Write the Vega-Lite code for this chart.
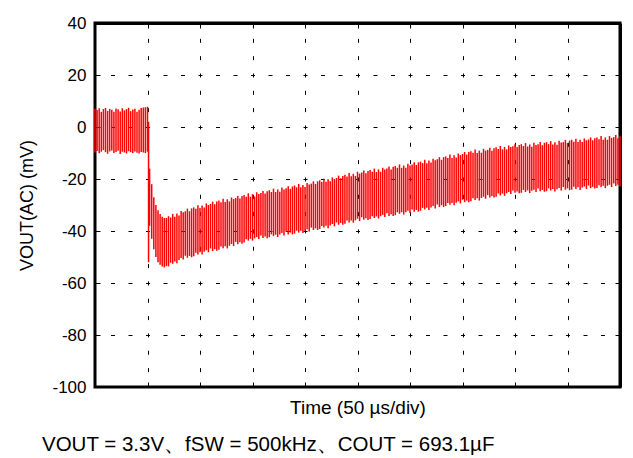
{
  "$schema": "https://vega.github.io/schema/vega-lite/v6.json",
  "width": 525,
  "height": 364,
  "autosize": "none",
  "padding": {"left": 95, "top": 23, "right": 13, "bottom": 71},
  "background": "white",
  "config": {
    "view": {"stroke": "black", "strokeWidth": 3},
    "font": "Liberation Sans",
    "axis": {"labelFont": "Liberation Sans", "titleFont": "Liberation Sans", "labelColor": "black", "titleColor": "black", "titleFontWeight": "normal", "zindex": 1}
  },
  "title": {
    "text": "VOUT = 3.3V、fSW = 500kHz、COUT = 693.1µF",
    "orient": "bottom",
    "anchor": "start",
    "frame": "group",
    "dx": -53,
    "offset": 17,
    "fontSize": 20.5,
    "fontWeight": "normal",
    "font": "Liberation Sans",
    "color": "black"
  },
  "data": {"values": [
    {"t":0,"h":7,"l":-9.8},{"t":2,"h":6.5,"l":-9.2},{"t":4,"h":7.2,"l":-10.1},{"t":6,"h":5.8,"l":-9.5},{"t":8,"h":6.9,"l":-8.9},{"t":10,"h":7.3,"l":-9.7},{"t":12,"h":6.2,"l":-10.3},{"t":14,"h":7,"l":-9.4},{"t":16,"h":6.6,"l":-9},{"t":18,"h":5.9,"l":-10},{"t":20,"h":7.1,"l":-9.6},{"t":22,"h":6.8,"l":-9.1},{"t":24,"h":6,"l":-10.4},{"t":26,"h":7.2,"l":-9.5},{"t":28,"h":6.4,"l":-9.8},{"t":30,"h":6.9,"l":-10.2},{"t":32,"h":7.4,"l":-9.3},{"t":34,"h":6.1,"l":-9.7},{"t":36,"h":6.7,"l":-10},{"t":38,"h":7,"l":-9.4},{"t":40,"h":5.9,"l":-9.9},{"t":42,"h":6.6,"l":-10.2},{"t":44,"h":7.3,"l":-9.6},{"t":46,"h":7.5,"l":-9.8},{"t":48,"h":7.6,"l":-10},{"t":50,"h":7.8,"l":-9.5},
    {"t":51,"h":2,"l":-52},
    {"t":52,"h":-16,"l":-38},{"t":54,"h":-22,"l":-43},{"t":56,"h":-27,"l":-47},{"t":58,"h":-30,"l":-50},{"t":60,"h":-32,"l":-52},{"t":62,"h":-33.5,"l":-53},{"t":64,"h":-34.5,"l":-53.7},{"t":66,"h":-35,"l":-54},{"t":68,"h":-35,"l":-53.5},
    {"t":70,"h":-34.3,"l":-53.6},{"t":72,"h":-34.8,"l":-52.2},{"t":74,"h":-33.4,"l":-52.6},{"t":76,"h":-34.5,"l":-51.7},{"t":78,"h":-33.3,"l":-52.4},{"t":80,"h":-34,"l":-51.2},{"t":82,"h":-32.3,"l":-50.4},{"t":84,"h":-32.8,"l":-51},
    {"t":86,"h":-32.4,"l":-49.5},{"t":88,"h":-31.4,"l":-50.3},{"t":90,"h":-32.4,"l":-49.6},{"t":92,"h":-31.3,"l":-50.1},{"t":94,"h":-30.9,"l":-49.7},{"t":96,"h":-31.4,"l":-48.4},{"t":98,"h":-30.1,"l":-49},{"t":100,"h":-31.2,"l":-48.2},
    {"t":102,"h":-30.2,"l":-49},{"t":104,"h":-31,"l":-48},{"t":106,"h":-29.4,"l":-47.4},{"t":108,"h":-30,"l":-48.2},{"t":110,"h":-29.6,"l":-46.7},{"t":112,"h":-28.7,"l":-47.7},{"t":114,"h":-29.7,"l":-47},{"t":116,"h":-28.7,"l":-47.6},{"t":118,"h":-28.3,"l":-47.2},{"t":120,"h":-28.9,"l":-46},{"t":122,"h":-27.6,"l":-46.6},{"t":124,"h":-28.8,"l":-45.9},{"t":126,"h":-27.8,"l":-46.7},
    {"t":128,"h":-28.6,"l":-45.7},{"t":130,"h":-27.1,"l":-45},{"t":132,"h":-27.7,"l":-45.8},{"t":134,"h":-27.3,"l":-44.2},{"t":136,"h":-26.5,"l":-45.1},{"t":138,"h":-27.5,"l":-44.3},{"t":140,"h":-26.5,"l":-44.9},{"t":142,"h":-26.2,"l":-44.4},{"t":144,"h":-26.8,"l":-43.2},{"t":146,"h":-25.5,"l":-43.7},{"t":148,"h":-26.8,"l":-43},{"t":150,"h":-25.8,"l":-43.7},
    {"t":152,"h":-26.7,"l":-42.8},{"t":154,"h":-25.1,"l":-42.3},{"t":156,"h":-25.8,"l":-43.1},{"t":158,"h":-25.4,"l":-41.7},{"t":160,"h":-24.6,"l":-42.7},{"t":162,"h":-25.6,"l":-42.1},{"t":164,"h":-24.7,"l":-42.8},{"t":166,"h":-24.3,"l":-42.4},{"t":168,"h":-25,"l":-41.3},{"t":170,"h":-23.7,"l":-42},{"t":172,"h":-25,"l":-41.4},{"t":174,"h":-24,"l":-42.3},{"t":176,"h":-24.9,"l":-41.3},{"t":178,"h":-23.3,"l":-40.8},{"t":180,"h":-24,"l":-41.7},{"t":182,"h":-23.6,"l":-40.3},{"t":184,"h":-22.8,"l":-41.3},{"t":186,"h":-23.8,"l":-40.6},{"t":188,"h":-22.9,"l":-41.3},{"t":190,"h":-22.5,"l":-41},{"t":192,"h":-23.2,"l":-39.9},{"t":194,"h":-21.9,"l":-40.6},{"t":196,"h":-23.2,"l":-39.9},{"t":198,"h":-22.3,"l":-40.8},{"t":200,"h":-23.1,"l":-39.9},
    {"t":202,"h":-21.5,"l":-39.3},{"t":204,"h":-22.1,"l":-40.2},{"t":206,"h":-21.8,"l":-38.7},{"t":208,"h":-20.9,"l":-39.6},{"t":210,"h":-21.9,"l":-39},{"t":212,"h":-20.9,"l":-39.6},{"t":214,"h":-20.5,"l":-39.2},{"t":216,"h":-21.2,"l":-38.1},{"t":218,"h":-19.9,"l":-38.7},{"t":220,"h":-21.1,"l":-38},{"t":222,"h":-20.1,"l":-38.9},{"t":224,"h":-20.9,"l":-37.9},{"t":226,"h":-19.4,"l":-37.3},{"t":228,"h":-20,"l":-38.2},{"t":230,"h":-19.6,"l":-36.7},{"t":232,"h":-18.7,"l":-37.6},{"t":234,"h":-19.7,"l":-36.9},{"t":236,"h":-18.8,"l":-37.6},{"t":238,"h":-18.4,"l":-37.2},{"t":240,"h":-19,"l":-36},{"t":242,"h":-17.7,"l":-36.7},{"t":244,"h":-18.9,"l":-36},{"t":246,"h":-18,"l":-36.8},{"t":248,"h":-18.8,"l":-35.9},{"t":250,"h":-17.2,"l":-35.3},
    {"t":252,"h":-17.9,"l":-36.2},{"t":254,"h":-17.5,"l":-34.7},{"t":256,"h":-16.7,"l":-35.7},{"t":258,"h":-17.8,"l":-35.1},{"t":260,"h":-16.9,"l":-35.8},{"t":262,"h":-16.5,"l":-35.4},{"t":264,"h":-17.2,"l":-34.3},{"t":266,"h":-16,"l":-35},{"t":268,"h":-17.3,"l":-34.4},{"t":270,"h":-16.3,"l":-35.2},{"t":272,"h":-17.2,"l":-34.3},{"t":274,"h":-15.7,"l":-33.8},{"t":276,"h":-16.3,"l":-34.6},{"t":278,"h":-16,"l":-33.2},{"t":280,"h":-15.2,"l":-34.2},{"t":282,"h":-16.3,"l":-33.6},{"t":284,"h":-15.3,"l":-34.2},{"t":286,"h":-15,"l":-33.9},{"t":288,"h":-15.7,"l":-32.8},{"t":290,"h":-14.4,"l":-33.4},{"t":292,"h":-15.7,"l":-32.8},{"t":294,"h":-14.8,"l":-33.7},{"t":296,"h":-15.7,"l":-32.8},{"t":298,"h":-14.1,"l":-32.2},{"t":300,"h":-14.8,"l":-33.1},
    {"t":302,"h":-14.4,"l":-31.7},{"t":304,"h":-13.6,"l":-32.6},{"t":306,"h":-14.6,"l":-31.9},{"t":308,"h":-13.6,"l":-32.6},{"t":310,"h":-13.3,"l":-32.2},{"t":312,"h":-13.9,"l":-31.1},{"t":314,"h":-12.6,"l":-31.7},{"t":316,"h":-13.9,"l":-31.1},{"t":318,"h":-12.9,"l":-31.9},{"t":320,"h":-13.7,"l":-31},{"t":322,"h":-12.2,"l":-30.4},{"t":324,"h":-12.8,"l":-31.3},{"t":326,"h":-12.4,"l":-29.8},{"t":328,"h":-11.6,"l":-30.8},{"t":330,"h":-12.6,"l":-30.1},{"t":332,"h":-11.6,"l":-30.8},{"t":334,"h":-11.3,"l":-30.4},{"t":336,"h":-11.9,"l":-29.2},{"t":338,"h":-10.6,"l":-29.9},{"t":340,"h":-11.9,"l":-29.2},{"t":342,"h":-10.9,"l":-30.1},{"t":344,"h":-11.7,"l":-29.1},{"t":346,"h":-10.2,"l":-28.6},{"t":348,"h":-10.8,"l":-29.4},{"t":350,"h":-10.4,"l":-28},{"t":352,"h":-9.6,"l":-28.9},{"t":354,"h":-10.6,"l":-28.3},{"t":356,"h":-9.6,"l":-28.9},{"t":358,"h":-9.3,"l":-28.6},{"t":360,"h":-9.9,"l":-27.4},
    {"t":362,"h":-8.7,"l":-28.1},{"t":364,"h":-10,"l":-27.4},{"t":366,"h":-9.1,"l":-28.3},{"t":368,"h":-9.9,"l":-27.3},{"t":370,"h":-8.4,"l":-26.8},{"t":372,"h":-9.1,"l":-27.6},{"t":374,"h":-8.8,"l":-26.2},{"t":376,"h":-8,"l":-27.1},{"t":378,"h":-9.1,"l":-26.5},{"t":380,"h":-8.2,"l":-27.1},{"t":382,"h":-7.8,"l":-26.8},{"t":384,"h":-8.5,"l":-25.6},{"t":386,"h":-7.3,"l":-26.3},{"t":388,"h":-8.6,"l":-25.6},{"t":390,"h":-7.7,"l":-26.5},{"t":392,"h":-8.6,"l":-25.5},{"t":394,"h":-7.1,"l":-25},{"t":396,"h":-7.7,"l":-25.8},{"t":398,"h":-7.4,"l":-24.4},{"t":400,"h":-6.6,"l":-25.3},
    {"t":402,"h":-7.7,"l":-24.8},{"t":404,"h":-6.9,"l":-25.5},{"t":406,"h":-6.6,"l":-25.3},{"t":408,"h":-7.3,"l":-24.2},{"t":410,"h":-6.2,"l":-25},{"t":412,"h":-7.5,"l":-24.4},{"t":414,"h":-6.7,"l":-25.4},{"t":416,"h":-7.6,"l":-24.5},{"t":418,"h":-6.1,"l":-24.1},{"t":420,"h":-6.9,"l":-25},{"t":422,"h":-6.6,"l":-23.7},{"t":424,"h":-5.8,"l":-24.7},{"t":426,"h":-7,"l":-24.2},{"t":428,"h":-6.1,"l":-24.9},{"t":430,"h":-5.8,"l":-24.7},{"t":432,"h":-6.6,"l":-23.6},{"t":434,"h":-5.4,"l":-24.4},{"t":436,"h":-6.7,"l":-23.8},{"t":438,"h":-5.9,"l":-24.8},{"t":440,"h":-6.8,"l":-23.9},
    {"t":442,"h":-5.3,"l":-23.5},{"t":444,"h":-6,"l":-24.4},{"t":446,"h":-5.8,"l":-23.1},{"t":448,"h":-5,"l":-24.1},{"t":450,"h":-6.1,"l":-23.6},{"t":452,"h":-5.2,"l":-24.3},{"t":454,"h":-4.9,"l":-24.1},{"t":456,"h":-5.7,"l":-23},{"t":458,"h":-4.5,"l":-23.8},{"t":460,"h":-5.8,"l":-23.2},{"t":462,"h":-4.9,"l":-24.2},{"t":464,"h":-5.8,"l":-23.3},{"t":466,"h":-4.4,"l":-22.9},{"t":468,"h":-5.1,"l":-23.8},{"t":470,"h":-4.8,"l":-22.5},{"t":472,"h":-4,"l":-23.5},{"t":474,"h":-5.1,"l":-23},{"t":476,"h":-4.3,"l":-23.7},{"t":478,"h":-4,"l":-23.5},{"t":480,"h":-4.7,"l":-22.4},
    {"t":482,"h":-3.5,"l":-23.1},{"t":484,"h":-4.9,"l":-22.6},{"t":486,"h":-4,"l":-23.5},{"t":488,"h":-4.9,"l":-22.6},{"t":490,"h":-3.5,"l":-22.2},{"t":492,"h":-4.2,"l":-23.1},{"t":494,"h":-3.9,"l":-21.7},{"t":496,"h":-3.1,"l":-22.7},{"t":498,"h":-4.3,"l":-22.2},{"t":500,"h":-3.4,"l":-22.9}
  ]},
  "layer": [
    {
      "mark": {"type": "rule", "color": "#ff0000", "strokeWidth": 1.5},
      "encoding": {
        "x": {
          "field": "t", "type": "quantitative",
          "scale": {"domain": [0, 500], "nice": false, "zero": false},
          "axis": {
            "orient": "bottom",
            "title": "Time (50 µs/div)",
            "titleFontSize": 19,
            "titlePadding": 11,
            "values": [0, 50, 100, 150, 200, 250, 300, 350, 400, 450, 500],
            "labels": false,
            "domain": false,
            "ticks": true,
            "tickSize": -5,
            "tickColor": "black",
            "tickWidth": 1,
            "grid": true,
            "gridColor": "black",
            "gridOpacity": 1,
            "gridWidth": 1,
            "gridDash": [4, 13.33],
            "gridDashOffset": 2
          }
        },
        "y": {
          "field": "l", "type": "quantitative",
          "scale": {"domain": [-100, 40], "nice": false, "zero": false},
          "axis": {
            "orient": "left",
            "title": "VOUT(AC) (mV)",
            "titleFontSize": 18,
            "titlePadding": 15,
            "values": [-100, -80, -60, -40, -20, 0, 20, 40],
            "labelExpr": "toString(datum.value)",
            "labelFontSize": 17,
            "labelPadding": 14,
            "domain": false,
            "ticks": true,
            "tickSize": -5,
            "tickColor": "black",
            "grid": true,
            "gridColor": "black",
            "gridOpacity": 1,
            "gridWidth": 1,
            "gridDash": [4, 13.5],
            "gridDashOffset": 2
          }
        },
        "y2": {"field": "h"}
      }
    },
    {
      "mark": {"type": "rule", "strokeOpacity": 0},
      "encoding": {
        "x": {
          "field": "t", "type": "quantitative",
          "axis": {
            "orient": "top", "title": null, "labels": false,
            "values": [0, 50, 100, 150, 200, 250, 300, 350, 400, 450, 500],
            "domain": true, "domainColor": "black", "domainWidth": 3,
            "ticks": true, "tickSize": -5, "tickColor": "black", "grid": false
          }
        },
        "y": {
          "field": "l", "type": "quantitative",
          "axis": {
            "orient": "right", "title": null, "labels": false,
            "values": [-100, -80, -60, -40, -20, 0, 20, 40],
            "domain": true, "domainColor": "black", "domainWidth": 3,
            "ticks": true, "tickSize": -5, "tickColor": "black", "grid": false
          }
        },
        "y2": {"field": "h"}
      }
    }
  ],
  "resolve": {"axis": {"x": "independent", "y": "independent"}}
}
